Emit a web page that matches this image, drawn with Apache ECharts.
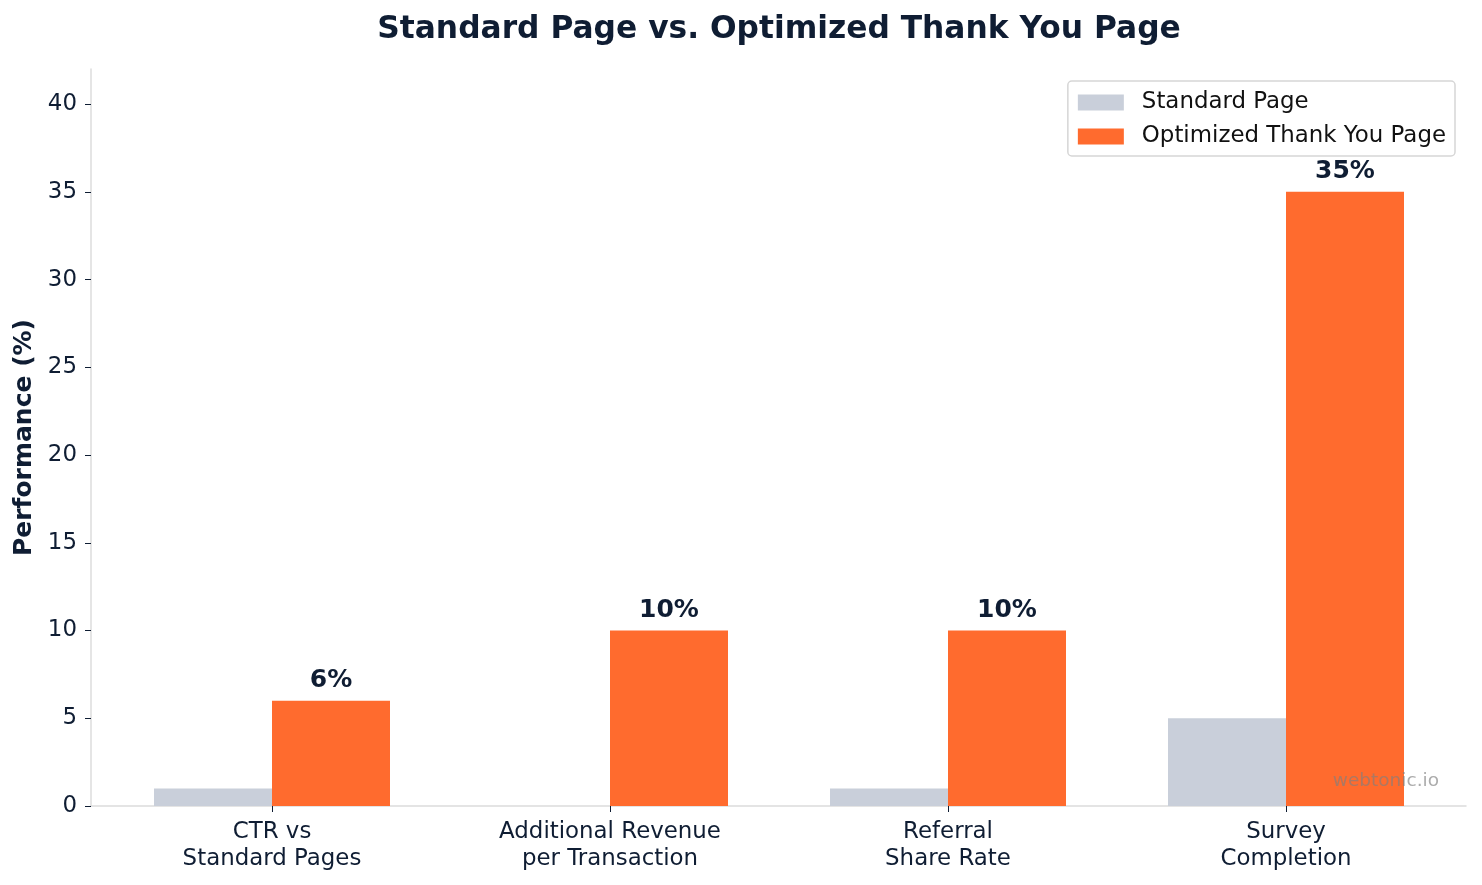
<!DOCTYPE html>
<html>
<head>
<meta charset="utf-8">
<script src="https://cdn.jsdelivr.net/npm/echarts@6/dist/echarts.min.js"></script>
<style>
  html, body { margin: 0; padding: 0; background: #fff; }
  #chart { width: 1482px; height: 885px; }
</style>
</head>
<body>
<div id="chart"></div>
<script>
// data
var categories = ['CTR vs\nStandard Pages', 'Additional Revenue\nper Transaction', 'Referral\nShare Rate', 'Survey\nCompletion'];
var standardValues = [1, 0, 1, 5];
var optimizedValues = [6, 10, 10, 35];
var yTicks = [0, 5, 10, 15, 20, 25, 30, 35, 40];

var dark = '#0f1d33';
var font = 'DejaVu Sans';

var myChart = echarts.init(document.getElementById('chart'));

var option = {
    backgroundColor: '#fff',
    animation: false,
    textStyle: { fontFamily: font },
    title: {
        text: 'Standard Page vs. Optimized Thank You Page',
        left: 774,
        textAlign: 'center',
        top: 9,
        textStyle: { fontFamily: font, fontSize: 31.3, fontWeight: 'bold', color: dark }
    },
    legend: {
        orient: 'vertical',
        right: 27,
        top: 81,
        padding: [10, 9, 8, 10],
        itemGap: 11,
        itemWidth: 46,
        itemHeight: 16,
        borderColor: '#d6d6d6',
        borderWidth: 1.5,
        borderRadius: 4,
        icon: 'rect',
        textStyle: { fontFamily: font, fontSize: 22.9, color: '#111', padding: [0, 0, 0, 13] },
        data: ['Standard Page', 'Optimized Thank You Page']
    },
    // grid 0 holds the bars, grid 1 draws the axes frame
    grid: [
        { left: 103, right: 27, top: 69, bottom: 79 },
        { left: 91, right: 16, top: 69, bottom: 79 }
    ],
    xAxis: [{
        type: 'category',
        gridIndex: 0,
        data: categories,
        axisLine: { show: false },
        axisTick: { show: true, alignWithLabel: true, length: 6, lineStyle: { color: dark } },
        axisLabel: { fontFamily: font, fontSize: 22.9, color: dark, lineHeight: 27.5, margin: 12 }
    }, {
        type: 'value',
        gridIndex: 1,
        min: 0,
        max: 1,
        axisLine: { show: true, lineStyle: { color: '#dcdcdc', width: 1.5 } },
        axisTick: { show: false },
        axisLabel: { show: false },
        splitLine: { show: false }
    }],
    yAxis: [{
        type: 'value',
        gridIndex: 0,
        min: 0,
        max: 42,
        show: false,
        splitLine: { show: false }
    }, {
        type: 'value',
        gridIndex: 1,
        min: 0,
        max: 42,
        name: 'Performance (%)',
        nameLocation: 'middle',
        nameGap: 53,
        nameTextStyle: { fontFamily: font, fontSize: 25, fontWeight: 'bold', color: dark },
        axisLine: { show: true, lineStyle: { color: '#dcdcdc', width: 1.5 } },
        axisTick: { show: true, length: 6, lineStyle: { color: dark }, customValues: yTicks },
        axisLabel: { fontFamily: font, fontSize: 22.9, color: dark, margin: 14, customValues: yTicks },
        splitLine: { show: false }
    }],
    series: [{
        name: 'Standard Page',
        type: 'bar',
        xAxisIndex: 0,
        yAxisIndex: 0,
        data: standardValues,
        barWidth: 118,
        barGap: '0%',
        itemStyle: { color: '#c9cfda' }
    }, {
        name: 'Optimized Thank You Page',
        type: 'bar',
        xAxisIndex: 0,
        yAxisIndex: 0,
        data: optimizedValues,
        barWidth: 118,
        barGap: '0%',
        itemStyle: { color: '#ff6b2e' },
        label: {
            show: true,
            position: 'top',
            distance: 8,
            formatter: '{c}%',
            fontFamily: font,
            fontSize: 25,
            fontWeight: 'bold',
            color: dark
        }
    }],
    graphic: [{
        type: 'text',
        right: 43,
        top: 772,
        z: 100,
        style: {
            text: 'webtonic.io',
            font: '18.5px "DejaVu Sans"',
            fill: 'rgba(128,128,128,0.65)'
        }
    }]
};

myChart.setOption(option);
</script>
</body>
</html>
